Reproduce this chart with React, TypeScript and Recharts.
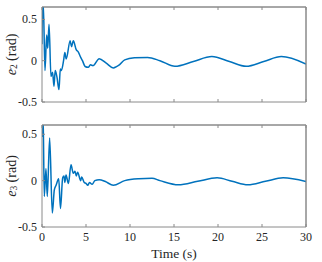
import { LineChart, Line, XAxis, YAxis, ReferenceLine } from 'recharts'

const timeTicks = [0, 5, 10, 15, 20, 25, 30]
const errTicks = [-0.5, 0, 0.5]

const e2Time = [0, 0.08, 0.2, 0.34, 0.53, 0.65, 0.8, 1.02, 1.2, 1.36, 1.5, 1.7, 1.93, 2.08, 2.2, 2.45, 2.6, 2.75, 3.2, 3.35, 3.56, 3.9, 4.1, 4.4, 4.6, 4.9, 5.26, 5.5, 5.8, 6.5, 7.3, 8.1, 8.8, 9.4, 10.5, 12, 13.4, 15.1, 17.2, 19.3, 21.3, 23.2, 25.2, 27.2, 30]
const e2Values = [0.2, 0.75, 0.5, -0.12, 0.31, 0.15, 0.44, -0.19, -0.14, -0.31, -0.12, -0.2, -0.35, -0.1, -0.12, 0.0, 0.1, 0.02, 0.24, 0.17, 0.24, 0.13, 0.11, 0.04, 0.0, -0.07, -0.08, -0.05, -0.06, 0.024, -0.03, -0.087, -0.05, 0.01, 0.035, 0.04, 0.0, -0.068, -0.01, 0.05, -0.01, -0.068, -0.01, 0.05, -0.04]

const e3Time = [0, 0.1, 0.15, 0.26, 0.45, 0.6, 0.87, 1.17, 1.4, 1.6, 1.9, 2.1, 2.35, 2.5, 2.6, 2.73, 3.0, 3.3, 3.55, 3.75, 3.9, 4.05, 4.4, 4.5, 4.8, 5.0, 5.2, 5.4, 5.7, 6.0, 6.5, 7.2, 8.1, 9.4, 11, 12.5, 13.4, 15.5, 17.7, 19.9, 21.6, 23.4, 25.4, 27.4, 30]
const e3Values = [0.47, 0.65, 0.55, -0.17, 0.13, -0.17, 0.46, -0.35, -0.1, -0.05, 0.02, -0.3, 0.03, 0.05, -0.02, 0.06, -0.03, 0.17, 0.08, 0.1, 0.05, 0.09, 0.0, 0.04, -0.02, -0.03, -0.05, -0.02, -0.04, 0.0, 0.01, -0.01, -0.05, 0.0, 0.02, 0.025, 0.0, -0.045, -0.007, 0.03, -0.007, -0.045, -0.007, 0.03, -0.01]

const e2Data = e2Time.map((t, i) => ({ t, v: e2Values[i] }))
const e3Data = e3Time.map((t, i) => ({ t, v: e3Values[i] }))

const FONT = "'Liberation Serif', 'DejaVu Serif', serif"
const AXIS = '#8a8a8a'
const TEXT = '#262626'
const BLUE = '#0072BD'

// tick labels drawn by hand so the serif font sticks
const xTick = (p: any) => (
  <text x={p.x} y={p.y} textAnchor="middle" dominantBaseline="hanging" fill={TEXT} style={{ fontFamily: FONT, fontSize: 12 }}>
    {p.payload.value}
  </text>
)
const yTick = (p: any) => (
  <text x={p.x} y={p.y} textAnchor="end" dominantBaseline="central" fill={TEXT} style={{ fontFamily: FONT, fontSize: 12 }}>
    {p.payload.value}
  </text>
)
const noTick = () => <g />

function yLabel(sub: string) {
  return (props: any) => {
    const vb = props.viewBox || {}
    const cy = vb.y + vb.height / 2
    const cx = 11
    return (
      <text
        x={cx}
        y={cy}
        transform={`rotate(-90, ${cx}, ${cy})`}
        textAnchor="middle"
        dominantBaseline="central"
        fill={TEXT}
        style={{ fontFamily: FONT, fontSize: 14 }}
      >
        <tspan fontStyle="italic">e</tspan>
        <tspan fontSize={9.5} dy={3}>{sub}</tspan>
        <tspan dy={-3}> (rad)</tspan>
      </text>
    )
  }
}

function timeLabel(props: any) {
  const vb = props.viewBox || {}
  return (
    <text x={vb.x + vb.width / 2} y={143} textAnchor="middle" dominantBaseline="central" fill={TEXT} style={{ fontFamily: FONT, fontSize: 13.5 }}>
      Time (s)
    </text>
  )
}

interface PanelProps {
  data: { t: number; v: number }[]
  sub: string
  top: number
  height: number
  marginTop: number
  xHeight: number
  yMax: number
  showTime: boolean
}

function Panel({ data, sub, top, height, marginTop, xHeight, yMax, showTime }: PanelProps) {
  return (
    <div style={{ position: 'absolute', left: 0, top }}>
      <LineChart width={322} height={height} data={data} margin={{ top: marginTop - 1, right: 15, bottom: 0, left: 0 }}>
        <XAxis
          dataKey="t"
          type="number"
          domain={[0, 30]}
          ticks={timeTicks}
          interval={0}
          allowDataOverflow
          height={xHeight}
          stroke={AXIS}
          tickSize={-3}
          tickMargin={8}
          tick={showTime ? xTick : noTick}
          tickLine={{ stroke: AXIS }}
          label={showTime ? timeLabel : undefined}
        />
        <XAxis
          xAxisId="top"
          orientation="top"
          dataKey="t"
          type="number"
          domain={[0, 30]}
          ticks={timeTicks}
          interval={0}
          height={1}
          stroke={AXIS}
          tickSize={-3}
          tick={noTick}
          tickLine={{ stroke: AXIS }}
        />
        <YAxis
          type="number"
          domain={[-0.5, yMax]}
          ticks={errTicks}
          interval={0}
          allowDataOverflow
          width={42}
          stroke={AXIS}
          tickSize={-3}
          tickMargin={8}
          tick={yTick}
          tickLine={{ stroke: AXIS }}
          label={yLabel(sub)}
        />
        <YAxis
          yAxisId="right"
          orientation="right"
          type="number"
          domain={[-0.5, yMax]}
          ticks={errTicks}
          interval={0}
          width={1}
          stroke={AXIS}
          tickSize={-3}
          tick={noTick}
          tickLine={{ stroke: AXIS }}
        />
        <ReferenceLine y={yMax} stroke={AXIS} strokeWidth={1} />
        <ReferenceLine x={30} stroke={AXIS} strokeWidth={1} />
        <Line type="monotone" dataKey="v" stroke={BLUE} strokeWidth={1.5} dot={false} isAnimationActive={false} />
      </LineChart>
    </div>
  )
}

export default function App() {
  return (
    <div style={{ position: 'absolute', left: 0, top: 0, width: 322, height: 262, background: '#fff', fontFamily: FONT }}>
      <Panel data={e2Data} sub="2" top={0} height={110} marginTop={7} xHeight={8} yMax={0.65} showTime={false} />
      <Panel data={e3Data} sub="3" top={110} height={152} marginTop={15} xHeight={35} yMax={0.6} showTime />
    </div>
  )
}
